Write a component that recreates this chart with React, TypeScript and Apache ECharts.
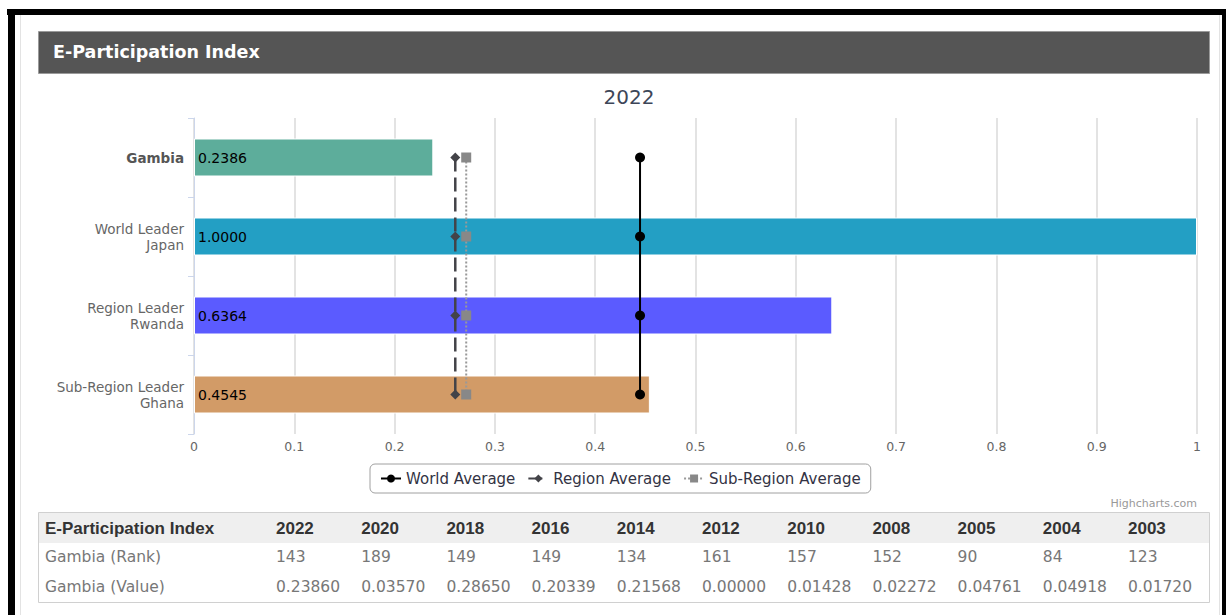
import React, { useEffect, useRef } from "react";
import * as echarts from "echarts";

const categories = ["Gambia", "World Leader\nJapan", "Region Leader\nRwanda", "Sub-Region Leader\nGhana"];
const barValues = [0.2386, 1.0, 0.6364, 0.4545];
const barColors = ["#5dad9b", "#239fc4", "#5b5bff", "#d29b67"];
const worldAverage = 0.4447;
const regionAverage = 0.2605;
const subRegionAverage = 0.2714;
const xTicks = [0, 0.1, 0.2, 0.3, 0.4, 0.5, 0.6, 0.7, 0.8, 0.9, 1];

const tableTitle = "E-Participation Index";
const tableYears = ["2022", "2020", "2018", "2016", "2014", "2012", "2010", "2008", "2005", "2004", "2003"];
const tableRanks = ["143", "189", "149", "149", "134", "161", "157", "152", "90", "84", "123"];
const tableValues = ["0.23860", "0.03570", "0.28650", "0.20339", "0.21568", "0.00000", "0.01428", "0.02272", "0.04761", "0.04918", "0.01720"];

const AXIS_FONT = "'DejaVu Sans', Verdana, sans-serif";
const TABLE_FONT = "'DejaVu Sans', sans-serif";

export default function App() {
  const ref = useRef<HTMLDivElement>(null);
  useEffect(() => {
    if (!ref.current) return;
    const chart = echarts.init(ref.current, null, { renderer: "svg" });

    const graphics: any[] = [];
    // outer frame
    graphics.push({ type: "rect", shape: { x: 7, y: 9, width: 1219, height: 6 }, style: { fill: "#000" }, silent: true });
    graphics.push({ type: "rect", shape: { x: 8, y: 9, width: 7, height: 606 }, style: { fill: "#000" }, silent: true });
    graphics.push({ type: "rect", shape: { x: 1222, y: 9, width: 4, height: 606 }, style: { fill: "#000" }, silent: true });
    graphics.push({ type: "line", shape: { x1: 20.5, y1: 15, x2: 20.5, y2: 615 }, style: { stroke: "#e3e3e3", lineWidth: 1 }, silent: true });
    graphics.push({ type: "line", shape: { x1: 1219.5, y1: 15, x2: 1219.5, y2: 615 }, style: { stroke: "#e3e3e3", lineWidth: 1 }, silent: true });
    // header bar
    graphics.push({ type: "rect", shape: { x: 38.5, y: 31.5, width: 1171, height: 42 }, style: { fill: "#555555", stroke: "#9a9a9a", lineWidth: 1 }, silent: true });
    graphics.push({
      type: "text", x: 53, y: 52,
      style: { text: "E-Participation Index", fill: "#ffffff", font: "bold 17.5px 'DejaVu Sans', sans-serif", textVerticalAlign: "middle" },
      silent: true,
    });
    // credits
    graphics.push({
      type: "text", x: 1197, y: 503,
      style: { text: "Highcharts.com", fill: "#999999", font: "11px 'DejaVu Sans', sans-serif", textAlign: "right", textVerticalAlign: "middle" },
      silent: true,
    });
    // table
    graphics.push({ type: "rect", shape: { x: 38.5, y: 512.5, width: 1171, height: 90 }, style: { fill: "#ffffff", stroke: "#d0d0d0", lineWidth: 1 }, silent: true });
    graphics.push({ type: "rect", shape: { x: 39, y: 513, width: 1170, height: 30 }, style: { fill: "#efefef" }, silent: true });
    const colX = (i: number) => 276 + i * 85.2;
    graphics.push({
      type: "text", x: 45, y: 528,
      style: { text: tableTitle, fill: "#333333", font: "bold 17px 'Liberation Sans', Arial, sans-serif", textVerticalAlign: "middle" },
      silent: true,
    });
    tableYears.forEach((y, i) => {
      graphics.push({
        type: "text", x: colX(i), y: 528,
        style: { text: y, fill: "#333333", font: "bold 17px 'Liberation Sans', Arial, sans-serif", textVerticalAlign: "middle" },
        silent: true,
      });
    });
    const rows = [
      { label: "Gambia (Rank)", vals: tableRanks, y: 557 },
      { label: "Gambia (Value)", vals: tableValues, y: 587 },
    ];
    rows.forEach((r) => {
      graphics.push({
        type: "text", x: 45, y: r.y,
        style: { text: r.label, fill: "#777777", font: `15.5px ${TABLE_FONT}`, textVerticalAlign: "middle" },
        silent: true,
      });
      r.vals.forEach((v, i) => {
        graphics.push({
          type: "text", x: colX(i), y: r.y,
          style: { text: v, fill: "#777777", font: `15.5px ${TABLE_FONT}`, textVerticalAlign: "middle" },
          silent: true,
        });
      });
    });

    const option: any = {
      animation: false,
      backgroundColor: "#ffffff",
      title: {
        text: "2022",
        left: 624,
        top: 82,
        textAlign: "center",
        textStyle: { fontSize: 20, fontWeight: "normal", color: "#3d4658", fontFamily: AXIS_FONT },
      },
      legend: {
        left: 370,
        top: 464,
        orient: "horizontal",
        padding: [7, 10],
        itemGap: 12,
        itemWidth: 20,
        itemHeight: 10,
        borderColor: "#a0a0a0",
        borderWidth: 1,
        borderRadius: 5,
        textStyle: { fontSize: 15, color: "#333344", fontFamily: AXIS_FONT },
        data: ["World Average", "Region Average", "Sub-Region Average"],
      },
      grid: { left: 194, right: 29, top: 118, bottom: 181, containLabel: false },
      xAxis: {
        type: "value",
        min: 0,
        max: 1,
        interval: 0.1,
        axisLine: { show: false },
        axisTick: { show: false },
        splitLine: { show: true, lineStyle: { color: "#dadada", width: 1.5 } },
        axisLabel: {
          color: "#666666",
          fontSize: 12.5,
          fontFamily: AXIS_FONT,
          margin: 6,
          formatter: (v: number) => (xTicks.indexOf(Math.round(v * 10) / 10) >= 0 ? String(Math.round(v * 10) / 10) : ""),
        },
      },
      yAxis: {
        type: "category",
        inverse: true,
        data: categories,
        axisLine: { show: true, lineStyle: { color: "#ccd6eb", width: 1 } },
        axisTick: { show: true, length: 6, lineStyle: { color: "#ccd6eb" } },
        splitLine: { show: false },
        axisLabel: {
          margin: 10,
          color: "#666666",
          fontSize: 13.5,
          lineHeight: 16,
          fontFamily: AXIS_FONT,
          formatter: (v: string, i: number) => (i === 0 ? `{b|${v}}` : v),
          rich: {
            b: { fontWeight: "bold", color: "#555555", fontSize: 13.5, fontFamily: AXIS_FONT },
          },
        },
      },
      series: [
        {
          type: "bar",
          name: "E-Participation Index",
          barWidth: 38,
          data: barValues.map((v, i) => ({ value: v, itemStyle: { color: barColors[i] } })),
          itemStyle: { borderColor: "#ffffff", borderWidth: 1 },
          label: {
            show: true,
            position: "insideLeft",
            distance: 4,
            color: "#000000",
            fontSize: 14,
            fontFamily: AXIS_FONT,
            formatter: (p: any) => Number(p.value).toFixed(4),
          },
          z: 2,
        },
        {
          type: "line",
          name: "World Average",
          data: categories.map((c) => [worldAverage, c]),
          symbol: "circle",
          symbolSize: 10,
          itemStyle: { color: "#000000" },
          lineStyle: { color: "#000000", width: 2 },
          z: 5,
        },
        {
          type: "line",
          name: "Region Average",
          data: categories.map((c) => [regionAverage, c]),
          symbol: "diamond",
          symbolSize: 10,
          itemStyle: { color: "#434348" },
          lineStyle: { color: "#434348", width: 2.5, type: [14, 6] },
          z: 4,
        },
        {
          type: "line",
          name: "Sub-Region Average",
          data: categories.map((c) => [subRegionAverage, c]),
          symbol: "rect",
          symbolSize: 10,
          itemStyle: { color: "#888888" },
          lineStyle: { color: "#999999", width: 2, type: [2, 2] },
          z: 3,
        },
      ],
      graphic: graphics,
    };
    chart.setOption(option);
    return () => chart.dispose();
  }, []);
  return <div ref={ref} style={{ position: "fixed", left: 0, top: 0, width: 1226, height: 615 }} />;
}
